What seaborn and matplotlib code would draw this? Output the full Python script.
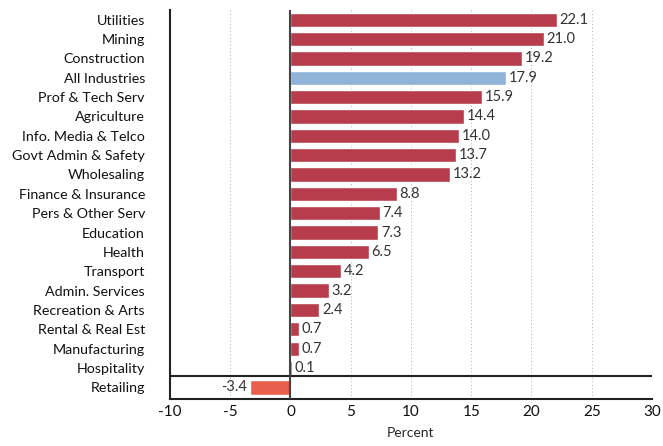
import matplotlib
matplotlib.use("Agg")
import matplotlib.pyplot as plt
import seaborn as sns
import pandas as pd

# Data
industries = ["Utilities", "Mining", "Construction", "All Industries", "Prof & Tech Serv",
              "Agriculture", "Info. Media & Telco", "Govt Admin & Safety", "Wholesaling",
              "Finance & Insurance", "Pers & Other Serv", "Education", "Health", "Transport",
              "Admin. Services", "Recreation & Arts", "Rental & Real Est", "Manufacturing",
              "Hospitality", "Retailing"]
values = [22.1, 21.0, 19.2, 17.9, 15.9, 14.4, 14.0, 13.7, 13.2, 8.8, 7.4, 7.3, 6.5, 4.2,
          3.2, 2.4, 0.7, 0.7, 0.1, -3.4]
xticks = [-10, -5, 0, 5, 10, 15, 20, 25, 30]

red = "#b73d4d"
blue = "#8fb3d9"
orange = "#e8604c"
colors = [blue if n == "All Industries" else (orange if v < 0 else red)
          for n, v in zip(industries, values)]

df = pd.DataFrame({"industry": industries, "value": values})

sns.set_style("white")
plt.rcParams["font.family"] = ["Lato", "DejaVu Sans"]

fig = plt.figure(figsize=(6.63, 4.46), dpi=100)
ax = fig.add_axes([0.2564, 0.1054, 0.727, 0.8722])

sns.barplot(data=df, x="value", y="industry", hue="industry", palette=colors,
            legend=False, width=0.74, saturation=1, ax=ax)

for c, v in zip(ax.containers, values):
    ax.bar_label(c, labels=[f"{v:.1f}"], padding=2, fontsize=10.5, color="#333333")

ax.set_xlim(-10, 30)
ax.set_ylim(19.6, -0.5)
ax.set_xticks(xticks)
ax.set_xticklabels([str(t) for t in xticks], fontsize=11)
ax.tick_params(axis="y", length=0, pad=18, labelsize=10.3, labelcolor="#111111")
ax.tick_params(axis="x", length=0, pad=4, labelcolor="#111111")
ax.set_ylabel("")
ax.set_xlabel("Percent", fontsize=10, labelpad=6)

for t in xticks:
    if t not in (-10, 0):
        ax.axvline(t, color="#b0b0b0", lw=0.7, ls=(0, (1, 2.5)), zorder=0)
ax.axvline(0, color="#444444", lw=1.5, zorder=3)
ax.axhline(18.4, color="#222222", lw=1.5)

for s in ["top", "right"]:
    ax.spines[s].set_visible(False)
for s in ["left", "bottom"]:
    ax.spines[s].set_color("#222222")
    ax.spines[s].set_linewidth(1.5)

fig.savefig("out.png", dpi=100)
